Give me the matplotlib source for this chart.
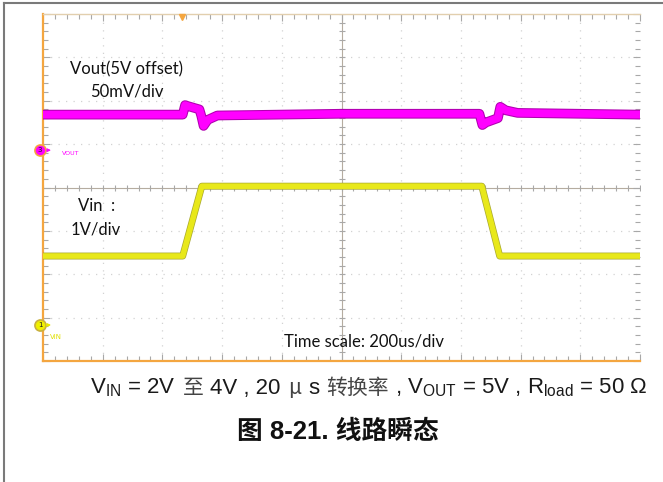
import numpy as np
import matplotlib
matplotlib.use('Agg')
import matplotlib.pyplot as plt
import matplotlib.patheffects as pe
from matplotlib.lines import Line2D
from matplotlib.offsetbox import TextArea, HPacker, AnnotationBbox

# scope traces, in divisions (10 x 8 grid, 0 = centre line)
vin_t = [0, 2.34, 2.66, 7.35, 7.65, 10]
vin_v = [-1.58, -1.58, 0.03, 0.03, -1.58, -1.58]

vout_t = [0, 2.34, 2.38, 2.42, 2.62, 2.65, 2.69, 2.76, 2.92, 5.0,
          7.31, 7.36, 7.42, 7.62, 7.66, 7.75, 7.95, 10]
vout_v = [1.68, 1.68, 1.90, 1.88, 1.80, 1.66, 1.42, 1.56, 1.66, 1.70,
          1.70, 1.44, 1.50, 1.60, 1.86, 1.78, 1.72, 1.68]

trig_t = 2.33        # trigger marker on top edge
ch3_level = 0.86     # VOUT ground marker
ch1_level = -3.17    # VIN ground marker

W, H = 663, 482
fig = plt.figure(figsize=(W / 100, H / 100), dpi=100)
ax = fig.add_axes([43 / W, 1 - 361 / H, 597 / W, 347 / H])
ax.set_xlim(0, 10)
ax.set_ylim(-4, 4)

orange = '#f4a640'
grid_c = '#d2d2d2'
tick_c = '#a8a8a8'

# dotted graticule
for k in range(1, 10):
    if k != 5:
        ax.axvline(k, color=grid_c, lw=0.9, ls=(0, (1, 5)), zorder=1)
for k in range(-3, 4):
    if k != 0:
        ax.axhline(k, color=grid_c, lw=0.9, ls=(0, (1, 5)), zorder=1)

# centre cross with small ticks
ax.axvline(5, color='#b5aca0', lw=0.8, zorder=1)
ax.axhline(0, color='#b5aca0', lw=0.8, zorder=1)
minor_x = np.arange(0, 10.01, 0.2)
minor_y = np.arange(-4, 4.01, 0.2)
ax.plot(minor_x, np.zeros_like(minor_x), ls='none', marker='|', ms=4, mew=0.8, color=tick_c, zorder=1)
ax.plot(np.full_like(minor_y, 5), minor_y, ls='none', marker='_', ms=4, mew=0.8, color=tick_c, zorder=1)

# frame: orange left/bottom, thin top, ticks only on right
ax.set_xticks(range(0, 11))
ax.set_yticks(range(-4, 5))
ax.set_xticks(minor_x, minor=True)
ax.set_yticks(minor_y, minor=True)
ax.tick_params(which='both', direction='in', top=True, right=True, labelbottom=False,
               labelleft=False, color=tick_c, width=0.8)
ax.tick_params(which='major', length=5)
ax.tick_params(which='minor', length=3.5)
for s in ['left', 'bottom']:
    ax.spines[s].set_color(orange)
    ax.spines[s].set_linewidth(1.6)
ax.spines['top'].set_color('#e2cfae')
ax.spines['top'].set_linewidth(1.0)
ax.spines['right'].set_visible(False)

# traces
ax.plot(vout_t, vout_v, color='#ff00ff', lw=5.5, solid_joinstyle='round', zorder=4,
        path_effects=[pe.Stroke(linewidth=7, foreground='#b000b0'), pe.Normal()])
ax.plot(vin_t, vin_v, color='#e8e81a', lw=4, solid_joinstyle='round', zorder=3,
        path_effects=[pe.Stroke(linewidth=5, foreground='#a8a830'), pe.Normal()])

# channel and trigger markers
ax.plot([-0.05], [ch3_level], marker='o', ms=8, color='#ff00ff', mec=orange, mew=1.2, clip_on=False, zorder=6)
ax.text(-0.05, ch3_level, '3', fontsize=5, ha='center', va='center', color='#222222', zorder=7)
ax.annotate('', xy=(0.18, ch3_level), xytext=(0.02, ch3_level),
            arrowprops=dict(arrowstyle='-|>', color='#ff00ff', lw=0.8, mutation_scale=5), zorder=6)
ax.text(0.32, ch3_level - 0.08, 'VOUT', fontsize=4.5, color='#ff00ff', va='center')

ax.plot([-0.05], [ch1_level], marker='o', ms=8, color='#f0f000', mec='#c8b040', mew=1.2, clip_on=False, zorder=6)
ax.text(-0.05, ch1_level, '1', fontsize=5, ha='center', va='center', color='#222222', zorder=7)
ax.annotate('', xy=(0.18, ch1_level), xytext=(0.02, ch1_level),
            arrowprops=dict(arrowstyle='-|>', color='#e8e800', lw=0.8, mutation_scale=5), zorder=6)
ax.text(0.12, ch1_level - 0.28, 'VIN', fontsize=5, color='#e0e000', va='center')

ax.plot([trig_t], [3.94], marker='v', ms=5, color=orange, clip_on=False, zorder=6)

# labels on the screen
lab = dict(family='Lato', fontsize=12, color='#111111', ha='center', va='center')
ax.text(1.40, 2.73, 'Vout(5V offset)', **lab)
ax.text(1.41, 2.22, '50mV/div', **lab)
ax.text(0.89, -0.43, 'Vin  :', **lab)
ax.text(0.89, -0.96, '1V/div', **lab)
ax.text(5.38, -3.54, 'Time scale: 200us/div', **lab)

# outer page frame
fig.add_artist(Line2D([4 / W, 1], [1 - 3 / H, 1 - 3 / H], transform=fig.transFigure, color='#7a7a7a', lw=1.5))
fig.add_artist(Line2D([4 / W, 4 / W], [0, 1 - 3 / H], transform=fig.transFigure, color='#7a7a7a', lw=1.5))

# caption line with subscripts and CJK pieces
lat = dict(family='Liberation Sans', fontsize=16, color='#1a1a1a')
cjk = dict(family='Noto Sans CJK SC', fontsize=15, color='#444444')
pieces = [
    (r'$\mathregular{V_{IN}}$ = 2V', lat),
    ('至', cjk),
    ('4V , 20', lat),
    ('μ', cjk),
    ('s', lat),
    ('转换率', cjk),
    (r', $\mathregular{V_{OUT}}$ = 5V , $\mathregular{R_{load}}$ = 50 Ω', lat),
]
box = HPacker(children=[TextArea(t, textprops=p) for t, p in pieces],
              align='baseline', pad=0, sep=5)
fig.add_artist(AnnotationBbox(box, (90 / W, 1 - 388 / H), xycoords='figure fraction',
                              box_alignment=(0, 0.5), frameon=False, pad=0))

fig.text(337.5 / W, 1 - 432 / H, '图 8-21. 线路瞬态', family=['Liberation Sans', 'Noto Sans CJK SC'],
         weight='bold', fontsize=18.5, ha='center', va='center', color='#111111')

fig.savefig('out.png', dpi=100)
